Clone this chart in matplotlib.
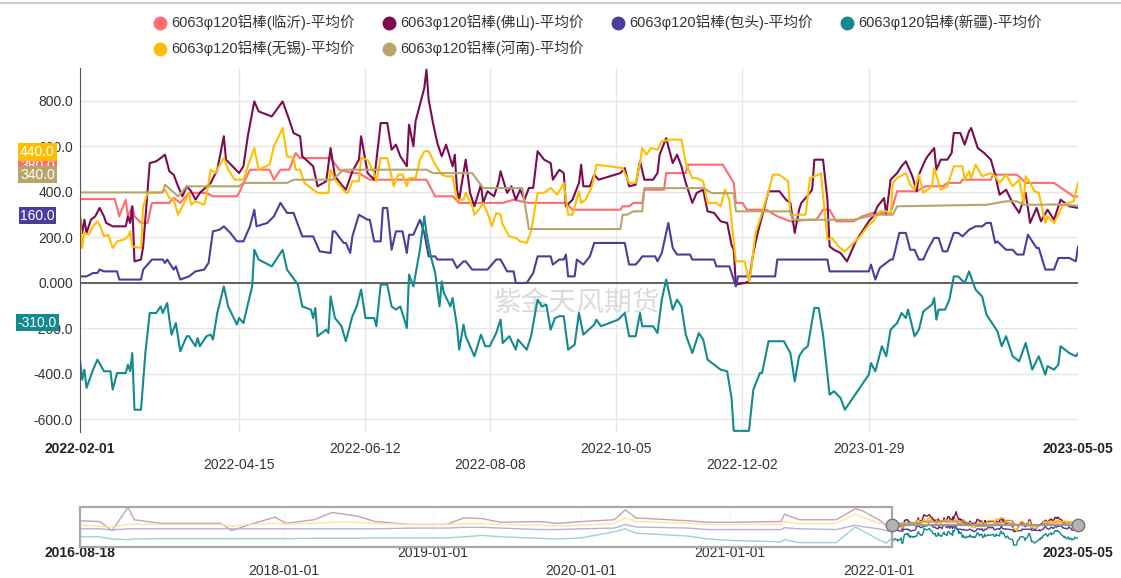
import pandas as pd
import matplotlib
matplotlib.use('Agg')
import matplotlib.pyplot as plt
import matplotlib.dates as mdates
import matplotlib.transforms as mtransforms
from matplotlib.lines import Line2D
from matplotlib.patches import Rectangle

plt.rcParams['font.family'] = ['Liberation Sans', 'Noto Sans CJK SC', 'DejaVu Sans']

W, H = 1121, 578
START = pd.Timestamp('2022-02-01')
END = pd.Timestamp('2023-05-05')
NAV_START = pd.Timestamp('2016-08-18')

# main period: x = days since 2022-02-01, y = 平均价
linyi_day = [0, 16, 18, 21, 22, 24, 25, 28, 31, 33, 41, 43, 46, 50, 58, 61, 72, 73, 78, 87,
             89, 92, 96, 99, 101, 115, 119, 125, 128, 133, 159, 163, 171, 174, 194, 199, 206, 223, 226, 248,
             249, 252, 254, 258, 259, 268, 269, 278, 279, 295, 300, 301, 304, 306, 315, 320, 326, 335, 338, 341,
             344, 347, 355, 359, 364, 372, 375, 384, 388, 396, 398, 404, 405, 418, 419, 430, 434, 447, 456, 458]
linyi_val = [369, 369, 293, 366, 293, 337, 293, 264, 264, 352, 352, 374, 352, 396, 396, 381, 381, 396, 498, 498,
             454, 498, 498, 571, 549, 549, 498, 483, 483, 454, 454, 381, 381, 352, 352, 366, 352, 352, 322, 322,
             337, 337, 352, 352, 410, 410, 483, 483, 520, 520, 440, 352, 352, 322, 322, 293, 271, 278, 278, 322,
             322, 271, 271, 293, 308, 308, 403, 403, 425, 425, 440, 440, 454, 454, 476, 476, 440, 440, 380, 380]

foshan_day = [0, 1, 2, 3, 5, 7, 9, 11, 12, 15, 21, 22, 23, 24, 25, 28, 29, 32, 35, 37,
              39, 41, 43, 45, 47, 49, 51, 53, 55, 60, 63, 66, 67, 70, 73, 75, 77, 80, 82, 88,
              93, 96, 98, 101, 102, 107, 109,
              113, 115, 117, 120, 122, 125, 128, 129, 132, 135, 138, 141, 143, 145, 147, 150, 151, 153, 154, 158,
              159, 160, 162, 164, 166, 168, 171, 172, 173, 174, 177, 179, 181, 184, 185, 187, 190, 192, 193, 196,
              198, 200, 202, 204, 206, 208, 210, 213, 216, 217,
              220, 222, 223, 226, 229, 230, 231, 234, 236, 238, 248, 250, 252, 255, 257, 259, 263, 265, 266, 269,
              272, 274, 276, 278, 281, 283, 286, 288, 291, 294, 297, 299, 300, 301, 305, 307, 309, 311, 313, 316,
              321, 324, 326, 328, 330, 331, 333, 336, 337,
              341, 343, 344, 346, 349, 352, 356, 362, 364, 366, 369, 370, 372, 375, 377, 379, 382, 384, 385, 388,
              389, 392, 393, 395, 398, 400, 401, 404, 406, 408, 409, 411, 412, 415, 418, 420, 422, 425, 428, 431,
              434, 436, 439, 441, 444, 447, 450, 454, 458]
foshan_val = [293, 220, 278, 220, 278, 293, 330, 293, 264, 249, 249, 293, 264, 337, 95, 103, 161, 527, 535, 549,
              564, 491, 476, 425, 381, 425, 403, 366, 396, 440, 498, 645, 542, 513, 483, 513, 645, 798, 754, 732,
              798, 718, 659, 645, 557, 513, 425,
              447, 593, 469, 432, 410, 491, 542, 645, 483, 454, 703, 703, 586, 608, 557, 513, 696, 601, 711, 857,
              938, 806, 703, 615, 557, 608, 513, 564, 410, 366, 542, 396, 337, 432, 352, 403, 381, 440, 491, 396,
              425, 366, 410, 366, 418, 418, 579, 542, 527, 454,
              498, 483, 337, 366, 440, 520, 425, 425, 476, 454, 483, 505, 425, 432, 535, 454, 454, 483, 564, 637,
              527, 564, 513, 440, 352, 396, 410, 315, 308, 271, 264, 168, 146, -7, 0, 7, 132, 220, 293, 403,
              403, 366, 352, 220, 322, 352, 373, 410, 542,
              542, 366, 161, 146, 132, 95, 183, 271, 293, 337, 373, 300, 454, 483, 513, 535, 469, 403, 476, 542,
              557, 593, 498, 542, 542, 571, 659, 659, 608, 667, 681, 623, 593, 571, 542, 476, 388, 410, 352, 308,
              396, 264, 330, 271, 322, 278, 366, 337, 330]

baotou_day = [0, 3, 6, 8, 9, 11, 17, 18, 28, 29, 31, 33, 38, 39, 40, 43, 44, 46, 50, 53,
              57, 59, 61, 64, 66, 69, 72, 75, 78, 80, 81, 86, 89, 92, 95, 98, 102, 107, 110,
              115, 116, 117, 121, 122, 124, 125, 128, 132, 133, 135, 138, 139, 141, 143, 145, 148, 150, 151, 153,
              156, 158, 160, 163, 164, 171, 173, 176, 177, 180, 187, 191, 193, 196, 199, 200, 205, 208, 210, 216,
              217,
              220, 222, 223, 224, 227, 228, 231, 234, 236, 250, 252, 255, 257, 258, 264, 265, 267, 270, 272, 274,
              280, 281, 291, 292, 298, 300, 301, 302, 319, 320, 339,
              343, 344, 362, 363, 365, 367, 372, 373, 374, 376, 379, 381, 383, 385, 387, 389, 392, 394, 396, 398,
              401, 403, 405, 408, 411, 414, 416, 418, 420, 421, 425, 428, 430, 433, 435, 439, 440, 443, 447, 449,
              454, 457, 458]
baotou_val = [29, 29, 44, 44, 59, 51, 51, 15, 15, 59, 81, 103, 103, 88, 103, 59, 73, 15, 29, 51,
              59, 88, 227, 234, 249, 220, 183, 183, 249, 322, 249, 264, 293, 352, 308, 308, 205, 205, 139,
              132, 227, 227, 176, 176, 132, 205, 300, 278, 278, 183, 183, 330, 330, 146, 227, 227, 132, 212, 212,
              278, 220, 117, 117, 103, 103, 66, 95, 95, 59, 59, 103, 103, 51, 51, 0, 0, 44, 117, 117,
              81,
              103, 103, 125, 29, 29, 103, 81, 117, 176, 176, 81, 81, 103, 117, 117, 95, 132, 264, 154, 125,
              125, 103, 103, 73, 73, 15, -15, 29, 29, 103, 103,
              103, 51, 51, 81, 15, 66, 103, 103, 139, 220, 220, 146, 146, 103, 103, 146, 198, 198, 139, 139,
              220, 220, 205, 234, 249, 249, 264, 264, 176, 183, 146, 146, 125, 125, 212, 154, 154, 59, 59, 110,
              110, 95, 160]

xinjiang_day = [0, 1, 2, 3, 6, 8, 11, 14, 15, 17, 21, 22, 23, 24, 25, 28, 30, 32, 35, 37,
                38, 40, 42, 44, 46, 49, 50, 53, 54, 55, 58, 60, 61, 63, 66, 68, 72, 73, 75, 79,
                80, 82, 88, 93, 95, 100, 102, 106, 107, 108, 109,
                113, 114, 115, 117, 120, 122, 123, 125, 127, 129, 131, 135, 136, 138, 141, 143, 145, 147, 150, 151,
                153, 156, 158, 159, 161, 163, 165, 166, 167, 170, 171, 173, 174, 176, 177, 181, 184, 186, 188, 191,
                193, 194, 197, 200, 201, 205, 207, 210, 212, 214, 216, 218,
                220, 222, 224, 227, 229, 231, 236, 237, 239, 243, 247, 250, 252, 255, 257, 258, 263, 265, 267, 269,
                272, 274, 276, 278, 281, 284, 286, 288, 291, 294, 297, 299, 300, 307, 309, 312, 313, 316, 323, 326,
                328, 330, 332, 334, 337, 339,
                341, 344, 346, 349, 351, 362, 363, 365, 368, 370, 372, 375, 377, 379, 380, 383, 385, 387, 391, 392,
                393, 394, 397, 399, 401, 403, 406, 408, 411, 414, 416, 421, 423, 425, 428, 431, 434, 437, 440, 443,
                444, 447, 449, 450, 454, 457, 458]
xinjiang_val = [-337, -425, -381, -461, -381, -337, -388, -388, -469, -396, -396, -359, -388, -308, -557, -557, -308, -132, -132, -103,
                -132, -88, -227, -176, -300, -234, -234, -278, -242, -278, -234, -227, -249, -132, -15, -103, -183, -154, -176, -15,
                146, 103, 73, 146, 59, -7, -103, -117, -154, -110, -234,
                -205, -220, -59, -154, -190, -256, -220, -146, -103, -29, -154, -154, -190, -7, -7, -103, -117, -103, -198, 37,
                -15, 146, 293, 220, 117, 44, -103, 7, -44, -103, -66, -190, -293, -183, -234, -322, -227, -278, -278, -220,
                -161, -264, -234, -293, -249, -293, -234, -73, -103, -95, -205, -154,
                -146, -146, -293, -271, -132, -227, -183, -161, -190, -176, -161, -132, -234, -234, -132, -190, -190, -220, -73, 15,
                -117, -73, -103, -227, -308, -220, -249, -337, -359, -381, -388, -505, -650, -650, -469, -396, -396, -256, -256, -308,
                -432, -322, -293, -278, -110, -110,
                -227, -491, -476, -505, -557, -403, -352, -388, -278, -322, -205, -176, -132, -154, -117, -234, -205, -125, -95, -66,
                -161, -117, -117, -73, 29, 29, 0, 51, -29, -59, -139, -212, -278, -234, -322, -344, -264, -381, -322, -403,
                -366, -381, -359, -278, -308, -322, -310]

wuxi_day = [0, 1, 2, 4, 6, 8, 9, 11, 13, 15, 17, 20, 22, 23, 24, 28, 29, 31, 37, 39,
            41, 43, 45, 47, 50, 51, 53, 57, 58, 60, 62, 66, 68, 71, 75, 77, 80, 82, 87, 89,
            93, 95, 98, 99, 101, 103, 107, 109,
            114, 115, 117, 119, 122, 123, 125, 128, 129, 132, 135, 136, 138, 141, 144, 146, 148, 150, 151, 154,
            156, 158, 160, 163, 166, 168, 171, 173, 176, 177, 180, 181, 183, 185, 187, 189, 191, 193, 194, 197,
            200, 202, 205, 207, 210, 213, 216, 219,
            222, 224, 226, 229, 230, 232, 235, 237, 249, 252, 255, 257, 258, 260, 262, 265, 267, 271, 276, 278,
            281, 283, 286, 288, 292, 294, 296, 298, 301, 305, 307, 308, 310, 313, 316, 318, 321, 325, 326, 333,
            335, 339,
            340, 343, 345, 348, 351, 358, 362, 364, 367, 370, 372, 373, 375, 379, 381, 383, 385, 387, 388, 391,
            392, 395, 398, 399, 401, 405, 406, 408, 409, 411, 414, 418, 420, 422, 425, 428, 431, 433, 434, 436,
            438, 440, 443, 444, 447, 449, 451, 456, 458]
wuxi_val = [293, 154, 220, 212, 249, 271, 256, 205, 212, 154, 183, 190, 205, 227, 161, 154, 337, 396, 396, 410,
            374, 366, 300, 337, 396, 344, 359, 344, 381, 498, 483, 549, 498, 454, 454, 513, 593, 498, 520, 601,
            681, 557, 549, 498, 498, 440, 410, 396,
            396, 498, 454, 432, 396, 396, 447, 447, 549, 542, 483, 447, 549, 549, 425, 476, 476, 425, 461, 461,
            542, 579, 579, 520, 476, 469, 469, 366, 366, 396, 337, 300, 322, 352, 308, 249, 308, 300, 256, 205,
            198, 183, 176, 227, 396, 396, 418, 388,
            440, 300, 300, 403, 352, 366, 425, 520, 505, 440, 440, 527, 593, 564, 593, 586, 623, 630, 630, 527,
            461, 461, 447, 352, 352, 337, 410, 366, 95, 95, 7, 59, 220, 308, 403, 476, 476, 447, 300, 300,
            461, 476,
            483, 190, 198, 161, 139, 205, 256, 271, 315, 315, 300, 440, 461, 483, 432, 410, 476, 396, 403, 425,
            505, 410, 425, 454, 513, 513, 454, 491, 461, 520, 469, 483, 469, 440, 476, 425, 454, 352, 469, 440,
            403, 396, 264, 293, 264, 300, 344, 359, 440]

henan_day = [0, 38, 39, 45, 49, 73, 75, 95, 98, 116, 121, 159, 162, 180, 185, 203, 206, 248, 249, 251,
             254, 258, 259, 286, 290, 300, 301, 326, 327, 355, 362, 366, 373, 375, 416, 425, 430, 433, 442, 447,
             458]
henan_val = [398, 398, 432, 381, 425, 425, 440, 440, 454, 454, 498, 498, 483, 483, 417, 417, 237, 237, 300, 300,
             315, 315, 417, 417, 395, 395, 315, 315, 278, 278, 293, 300, 300, 337, 344, 359, 359, 344, 344, 345,
             340]

# navigator history before 2022-02-01 (faded part)
hist_dates = ['2016-08-18', '2016-10-06', '2016-11-05', '2016-12-14', '2016-12-29', '2017-03-03', '2017-07-30',
              '2017-08-26', '2017-10-09', '2017-12-10', '2018-01-06', '2018-03-16', '2018-04-29', '2018-06-30',
              '2018-08-13', '2018-11-09', '2019-02-03', '2019-03-19', '2019-05-03', '2019-06-16', '2019-09-22',
              '2019-11-03', '2020-01-01', '2020-03-22', '2020-04-18', '2020-05-15', '2020-09-20', '2020-11-06',
              '2021-01-01', '2021-05-06', '2021-05-14', '2021-06-20', '2021-09-18', '2021-11-04', '2021-11-21',
              '2022-01-01', '2022-01-19']
hist_foshan = [505, 469, 36, 1150, 556, 383, 383, 36, 331, 677, 383, 556, 902, 729, 469, 331, 331, 642, 608,
               435, 469, 383, 469, 556, 1023, 642, 505, 435, 435, 469, 816, 556, 556, 1075, 989, 556, 296]
hist_wuxi = [296, 244, 210, 331, 348, 331, 331, 262, 331, 383, 348, 383, 435, 435, 383, 331, 331, 366, 366,
             331, 296, 262, 296, 366, 642, 469, 383, 331, 331, 331, 469, 366, 383, 816, 677, 400, 262]
hist_baotou = [123, 123, 70, 123, 123, 123, 123, 123, 123, 123, 123, 123, 123, 123, 123, 158, 158, 193, 193,
               158, 88, 88, 123, 158, 331, 210, 158, 88, 88, 88, 175, 123, 88, 296, 227, 123, 36]
hist_xinjiang = [-258, -258, -362, -397, -362, -345, -345, -345, -345, -345, -345, -328, -328, -328, -310, -310,
                 -310, -258, -189, -258, -328, -362, -310, -16, 123, -85, -223, -362, -431, -500, -397, -535,
                 -535, 210, 36, -397, -557]

names = ['6063φ120铝棒(临沂)-平均价', '6063φ120铝棒(佛山)-平均价', '6063φ120铝棒(包头)-平均价',
         '6063φ120铝棒(新疆)-平均价', '6063φ120铝棒(无锡)-平均价', '6063φ120铝棒(河南)-平均价']
colors = ['#ff6b6e', '#7b0c50', '#4d3c9b', '#138a8e', '#ffbf00', '#b6a66b']
days = [linyi_day, foshan_day, baotou_day, xinjiang_day, wuxi_day, henan_day]
vals = [linyi_val, foshan_val, baotou_val, xinjiang_val, wuxi_val, henan_val]
hist = [None, hist_foshan, hist_baotou, hist_xinjiang, hist_wuxi, None]

main_ticks = ['2022-02-01', '2022-04-15', '2022-06-12', '2022-08-08', '2022-10-05', '2022-12-02',
              '2023-01-29', '2023-05-05']
main_rows = [0, 1, 0, 1, 0, 1, 0, 0]
nav_ticks = ['2016-08-18', '2018-01-01', '2019-01-01', '2020-01-01', '2021-01-01', '2022-01-01', '2023-05-05']
nav_rows = [0, 1, 0, 1, 0, 1, 0]

fig = plt.figure(figsize=(W / 100, H / 100), dpi=100)
ax = fig.add_axes([80 / W, 1 - 432 / H, 998 / W, 364 / H])

series_dates = [START + pd.to_timedelta(d, unit='D') for d in days]
for dt, v, c in zip(series_dates, vals, colors):
    ax.plot(dt, v, color=c, lw=1.5, zorder=2)

ax.set_xlim(START, END)
ax.set_ylim(-655, 945)
yt = [-600, -400, -200, 0, 200, 400, 600, 800]
ax.set_yticks(yt)
ax.set_yticklabels(['0.000' if t == 0 else f'{t:.1f}' for t in yt])
ax.tick_params(axis='y', length=0, pad=5, labelsize=10, labelcolor='#333333')
ax.set_xticks([])
for t in yt:
    ax.axhline(t, color='#e6e6e6', lw=1, zorder=0)
ax.axhline(0, color='#555555', lw=1.3, zorder=1)
for sp in ['top', 'right', 'bottom']:
    ax.spines[sp].set_visible(False)
ax.spines['left'].set_color('#555555')

trans = mtransforms.blended_transform_factory(ax.transData, ax.transAxes)
for i, (d, r) in enumerate(zip(main_ticks, main_rows)):
    x = mdates.date2num(pd.Timestamp(d))
    edge = i in (0, len(main_ticks) - 1)
    if not edge:
        ax.axvline(x, color='#e6e6e6', lw=1, zorder=0)
    ax.text(x, -0.047 if r == 0 else -0.091, d, transform=trans, ha='center', va='center',
            fontsize=10, color='#222222' if edge else '#333333',
            fontweight='bold' if edge else 'normal', clip_on=False)

# last-value labels on the y axis
for k in [0, 4, 5, 2, 3]:
    last = vals[k][-1]
    ax.annotate(f'{last:.1f}', xy=(0, last), xycoords=('axes fraction', 'data'),
                xytext=(-30.6, 22.3), textcoords='offset points', ha='center', va='center',
                fontsize=10, color='white', annotation_clip=False, zorder=6,
                bbox=dict(boxstyle='square,pad=0.12', fc=colors[k], ec='none'))

ax.text(577 / W, 1 - 303 / H, '紫金天风期货', transform=fig.transFigure, fontsize=20,
        color='#cccccc', alpha=0.7, ha='center', va='center', zorder=0.5,
        family=['Noto Sans CJK SC'])

# navigator
nav = fig.add_axes([80 / W, 1 - 547 / H, 998 / W, 40 / H])
nav.set_xlim(NAV_START, END)
nav.set_ylim(-743, 1162)
nav.set_xticks([])
nav.set_yticks([])
for sp in nav.spines.values():
    sp.set_visible(False)
ntrans = mtransforms.blended_transform_factory(nav.transData, nav.transAxes)
hd = pd.to_datetime(hist_dates)
for h, dt, v, c in zip(hist, series_dates, vals, colors):
    if h is not None:
        nav.plot(hd, h, color=c, lw=1.0, zorder=2)
        nav.plot([hd[-1], dt[0]], [h[-1], v[0]], color=c, lw=1.0, zorder=2)
    nav.plot(dt, v, color=c, lw=1.0, zorder=2)
x0 = mdates.date2num(NAV_START)
x1 = mdates.date2num(START)
x2 = mdates.date2num(END)
nav.add_patch(Rectangle((x0, 0), x1 - x0, 1, transform=ntrans, fc='white', alpha=0.6,
                        ec='none', zorder=3))
nav.add_patch(Rectangle((x0, 0), x1 - x0, 1, transform=ntrans, fc='none', ec='#a8a8a8',
                        lw=1.6, zorder=4, clip_on=False))
nav.plot([x1, x2], [0.55, 0.55], transform=ntrans, color='#9a9a9a', lw=1.6, zorder=4)
for xx in (x1, x2):
    nav.plot([xx], [0.55], transform=ntrans, marker='o', ms=9, mfc='#b3b3b3', mec='#777777',
             mew=1, zorder=5, clip_on=False)
for i, (d, r) in enumerate(zip(nav_ticks, nav_rows)):
    x = mdates.date2num(pd.Timestamp(d))
    edge = i in (0, len(nav_ticks) - 1)
    if not edge:
        nav.axvline(x, color='#eeeeee', lw=1, zorder=0)
    nav.text(x, -0.15 if r == 0 else -0.6, d, transform=ntrans, ha='center', va='center',
             fontsize=10, color='#222222' if edge else '#333333',
             fontweight='bold' if edge else 'normal', clip_on=False)

# legend
leg_pos = [(160, 22.5), (389, 22.5), (618, 22.5), (847, 22.5), (160, 48.5), (389, 48.5)]
order = [0, 1, 2, 3, 4, 5]
for k, (px, py) in zip(order, leg_pos):
    fig.add_artist(Line2D([px / W], [1 - py / H], marker='o', ms=9, color=colors[k],
                          transform=fig.transFigure))
    fig.text((px + 11) / W, 1 - py / H, names[k], fontsize=10.5, color='#333333',
             ha='left', va='center')

fig.add_artist(Line2D([0, 1], [1 - 3 / H, 1 - 3 / H], color='#cccccc', lw=1.5,
                      transform=fig.transFigure))

fig.savefig('out.png', dpi=100)
